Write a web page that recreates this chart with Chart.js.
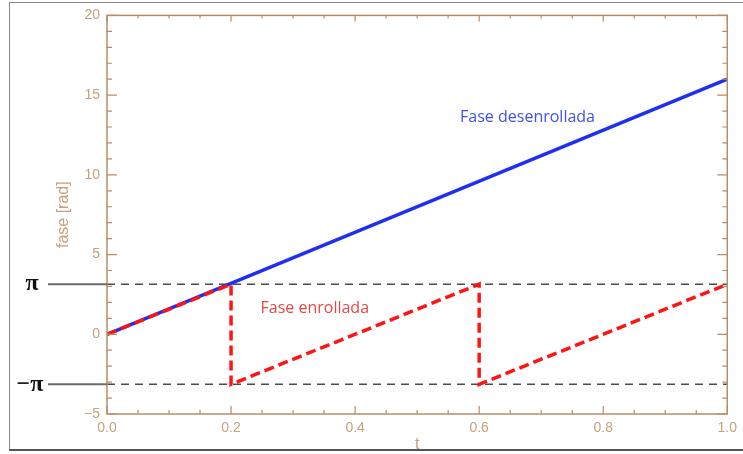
<!DOCTYPE html>
<html>
<head>
<meta charset="utf-8">
<script src="https://cdn.jsdelivr.net/npm/chart.js@4"></script>
<style>
  html, body { margin: 0; padding: 0; background: #fff; }
  #wrap { position: relative; width: 743px; height: 454px; }
  #frame {
    position: absolute; left: 9px; top: 2px; width: 734px; height: 446px;
    border-left: 1px solid #8a8a8a; border-top: 1px solid #8a8a8a;
    border-bottom: 2px solid #555; pointer-events: none;
  }
  canvas { position: absolute; left: 0; top: 0; }
</style>
</head>
<body>
<div id="wrap">
  <canvas id="phaseChart" width="743" height="454"></canvas>
  <div id="frame"></div>
</div>
<script>
// unwrapped phase (blue, solid)
const unwrappedT = [0.0, 1.0];
const unwrappedPhase = [0.0, 16.0];

// wrapped phase (red, dashed) - jumps from +pi to -pi
const wrappedT = [0.0, 0.2, 0.2, 0.6, 0.6, 1.0];
const wrappedPhase = [0.0, 3.14, -3.14, 3.14, -3.14, 3.14];

// axis ticks
const xTickLabels = ['0.0', '0.2', '0.4', '0.6', '0.8', '1.0'];
const yTickLabels = ['−5', '0', '5', '10', '15', '20'];

// reference levels
const piLevels = [3.14, -3.14];
const piLabels = ['π', '−π'];

// curve labels (data coords)
const curveLabels = [
  { text: 'Fase desenrollada', t: 0.678, v: 13.6, color: '#3e52e6' },
  { text: 'Fase enrollada', t: 0.335, v: 1.65, color: '#e64848' }
];

const axisColor = '#b88c66';
const tickTextColor = '#c6a17c';

const toPoints = (xs, ys) => xs.map((x, i) => ({ x: x, y: ys[i] }));

const decorPlugin = {
  id: 'decor',
  beforeDatasetsDraw(chart) {
    const { ctx, chartArea: a, scales: { y } } = chart;
    ctx.save();
    piLevels.forEach(v => {
      const py = y.getPixelForValue(v);
      // dashed reference line inside the plot
      ctx.strokeStyle = '#4a4a4a';
      ctx.lineWidth = 1.5;
      ctx.setLineDash([8, 6]);
      ctx.beginPath();
      ctx.moveTo(a.left, py);
      ctx.lineTo(a.right, py);
      ctx.stroke();
    });
    ctx.restore();
  },
  afterDraw(chart) {
    const { ctx, chartArea: a, scales: { x, y } } = chart;
    ctx.save();

    // axis box
    ctx.strokeStyle = axisColor;
    ctx.lineWidth = 1.5;
    ctx.strokeRect(a.left, a.top, a.right - a.left, a.bottom - a.top);

    // inward ticks, y every 1 (major every 5)
    ctx.lineWidth = 1.2;
    ctx.beginPath();
    for (let v = -5; v <= 20; v++) {
      const py = y.getPixelForValue(v);
      const len = v % 5 === 0 ? 10 : 5;
      ctx.moveTo(a.left, py); ctx.lineTo(a.left + len, py);
      ctx.moveTo(a.right, py); ctx.lineTo(a.right - len, py);
    }
    // x every 0.05 (major every 0.2)
    for (let i = 0; i <= 20; i++) {
      const px = x.getPixelForValue(i * 0.05);
      const major = i % 4 === 0;
      ctx.moveTo(px, a.bottom); ctx.lineTo(px, a.bottom - (major ? 8 : 4));
      ctx.moveTo(px, a.top); ctx.lineTo(px, a.top + (major ? 6 : 3));
    }
    ctx.stroke();

    // pi leader lines and labels in the left margin
    piLevels.forEach((v, i) => {
      const py = y.getPixelForValue(v);
      ctx.strokeStyle = '#6a6a6a';
      ctx.lineWidth = 2;
      ctx.beginPath();
      ctx.moveTo(48, py);
      ctx.lineTo(a.left, py);
      ctx.stroke();
      ctx.fillStyle = '#111';
      ctx.font = 'bold 24px "Liberation Serif"';
      ctx.textAlign = 'center';
      ctx.textBaseline = 'middle';
      ctx.fillText(piLabels[i], i === 0 ? 32 : 30, py);
    });

    // curve labels
    curveLabels.forEach(l => {
      ctx.fillStyle = l.color;
      ctx.font = '16px "Open Sans"';
      ctx.textAlign = 'center';
      ctx.textBaseline = 'middle';
      ctx.fillText(l.text, x.getPixelForValue(l.t), y.getPixelForValue(l.v));
    });
    ctx.restore();
  }
};

new Chart(document.getElementById('phaseChart'), {
  type: 'scatter',
  data: {
    datasets: [
      {
        label: 'Fase desenrollada',
        data: toPoints(unwrappedT, unwrappedPhase),
        showLine: true,
        borderColor: '#1f2ff0',
        borderWidth: 3.5,
        pointRadius: 0,
        order: 1
      },
      {
        label: 'Fase enrollada',
        data: toPoints(wrappedT, wrappedPhase),
        showLine: true,
        borderColor: '#ff1414',
        borderWidth: 3.5,
        borderDash: [10, 5],
        pointRadius: 0,
        order: 0
      }
    ]
  },
  options: {
    responsive: false,
    animation: false,
    layout: { padding: { left: 0, top: 15, right: 13, bottom: 0 } },
    plugins: { legend: { display: false }, tooltip: { enabled: false } },
    scales: {
      x: {
        type: 'linear',
        min: 0,
        max: 1,
        afterFit: s => { s.height = 40; },
        grid: { display: false, drawTicks: false },
        border: { display: false },
        ticks: {
          stepSize: 0.2,
          padding: 6,
          color: tickTextColor,
          font: { family: 'Liberation Sans', size: 14 },
          callback: (v, i) => xTickLabels[i]
        },
        title: {
          display: true,
          text: 't',
          color: tickTextColor,
          font: { family: 'Liberation Sans', size: 16 },
          padding: { top: 0, bottom: 0 }
        }
      },
      y: {
        min: -5,
        max: 20,
        afterFit: s => { s.width = 107; },
        grid: { display: false, drawTicks: false },
        border: { display: false },
        ticks: {
          stepSize: 5,
          padding: 7,
          color: tickTextColor,
          font: { family: 'Liberation Sans', size: 14 },
          callback: (v, i) => yTickLabels[i]
        },
        title: {
          display: true,
          text: 'fase [rad]',
          color: tickTextColor,
          font: { family: 'Liberation Sans', size: 16 },
          padding: { top: 54, bottom: 0 }
        }
      }
    }
  },
  plugins: [decorPlugin]
});
</script>
</body>
</html>
